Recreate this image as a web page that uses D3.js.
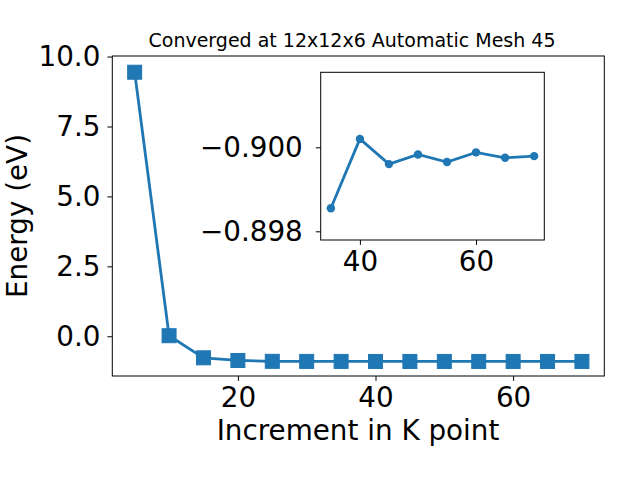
<!DOCTYPE html>
<html><head><meta charset="utf-8">
<script src="https://cdn.jsdelivr.net/npm/d3@7"></script>
<style>body{margin:0;background:#fff}text{font-family:"DejaVu Sans",sans-serif;fill:#000}</style>
</head><body>
<svg id="c" width="640" height="480"></svg>
<script>
const kpoints = [5,10,15,20,25,30,35,40,45,50,55,60,65,70];
const energy = [9.44,0.02,-0.77,-0.865,-0.895,-0.898,-0.8985,-0.9002,-0.8996,-0.8998,-0.89965,-0.8999,-0.89975,-0.8998];
const insetK = [35,40,45,50,55,60,65,70];
const insetE = [-0.89855,-0.9002,-0.8996,-0.89983,-0.89965,-0.89988,-0.89975,-0.89979];
const mainYTicks = [0,2.5,5,7.5,10];
const mainXTicks = [20,40,60];
const insetYTicks = [-0.900,-0.898];
const insetXTicks = [40,60];
const title = "Converged at 12x12x6 Automatic Mesh 45";
const color = "#1f77b4";

const svg = d3.select("#c");
const M = {l:112.3, r:604.3, t:56, b:376};
const x = d3.scaleLinear().domain([1.75,73.25]).range([M.l,M.r]);
const y = d3.scaleLinear().domain([-1.42,10.02]).range([M.b,M.t]);
const fs = 27.8;

function fmt1(v){return d3.format(".1f")(v).replace("-","\u2212");}

const gx = svg.append("g").attr("transform",`translate(0,${M.b})`)
  .call(d3.axisBottom(x).tickValues(mainXTicks).tickSize(4.9).tickPadding(5).tickFormat(d3.format("d")));
const gy = svg.append("g").attr("transform",`translate(${M.l},0)`)
  .call(d3.axisLeft(y).tickValues(mainYTicks).tickSize(4.9).tickPadding(7).tickFormat(fmt1));
[gx,gy].forEach(g=>{g.select(".domain").remove();g.selectAll("line").attr("stroke","#000").attr("stroke-width",1);
  g.selectAll("text").attr("font-size",fs).attr("font-family","DejaVu Sans").attr("fill","#000");});
gx.selectAll("text").attr("dy","0.75em");

const line = d3.line().x((d,i)=>x(kpoints[i])).y(d=>y(d));
svg.append("path").datum(energy).attr("d",line).attr("fill","none").attr("stroke",color).attr("stroke-width",2.8);
const ms = 14;
svg.selectAll("rect.m").data(energy).enter().append("rect")
  .attr("x",(d,i)=>x(kpoints[i])-ms/2).attr("y",d=>y(d)-ms/2).attr("width",ms).attr("height",ms)
  .attr("fill",color).attr("stroke",color).attr("stroke-width",1);
svg.append("rect").attr("x",M.l).attr("y",M.t).attr("width",M.r-M.l).attr("height",M.b-M.t)
  .attr("fill","none").attr("stroke","#000").attr("stroke-width",1);

svg.append("text").attr("x",352).attr("y",47.3).attr("text-anchor","middle").attr("font-size",19).text(title);
svg.append("text").attr("x",358).attr("y",440).attr("text-anchor","middle").attr("font-size",fs).text("Increment in K point");
svg.append("text").attr("transform",`translate(27,216) rotate(-90)`).attr("text-anchor","middle").attr("font-size",fs).text("Energy (eV)");

const I = {l:320.7, r:544.3, t:72.3, b:240};
svg.append("rect").attr("x",I.l).attr("y",I.t).attr("width",I.r-I.l).attr("height",I.b-I.t).attr("fill","#fff");
const xi = d3.scaleLinear().domain([33.25,71.75]).range([I.l,I.r]);
const yi = d3.scaleLinear().domain([-0.901786,-0.897793]).range([I.t,I.b]);
const gxi = svg.append("g").attr("transform",`translate(0,${I.b})`)
  .call(d3.axisBottom(xi).tickValues(insetXTicks).tickSize(4.9).tickPadding(5).tickFormat(d3.format("d")));
const gyi = svg.append("g").attr("transform",`translate(${I.l},0)`)
  .call(d3.axisLeft(yi).tickValues(insetYTicks).tickSize(4.9).tickPadding(13).tickFormat(v=>d3.format(".3f")(v).replace("-","\u2212")));
[gxi,gyi].forEach(g=>{g.select(".domain").remove();g.selectAll("line").attr("stroke","#000").attr("stroke-width",1);
  g.selectAll("text").attr("font-size",fs).attr("font-family","DejaVu Sans").attr("fill","#000");});
gxi.selectAll("text").attr("dy","0.75em");
const linei = d3.line().x((d,i)=>xi(insetK[i])).y(d=>yi(d));
svg.append("path").datum(insetE).attr("d",linei).attr("fill","none").attr("stroke",color).attr("stroke-width",2.8);
svg.selectAll("circle.m").data(insetE).enter().append("circle")
  .attr("cx",(d,i)=>xi(insetK[i])).attr("cy",d=>yi(d)).attr("r",4.2).attr("fill",color);
svg.append("rect").attr("x",I.l).attr("y",I.t).attr("width",I.r-I.l).attr("height",I.b-I.t)
  .attr("fill","none").attr("stroke","#000").attr("stroke-width",1);
</script>
</body></html>
